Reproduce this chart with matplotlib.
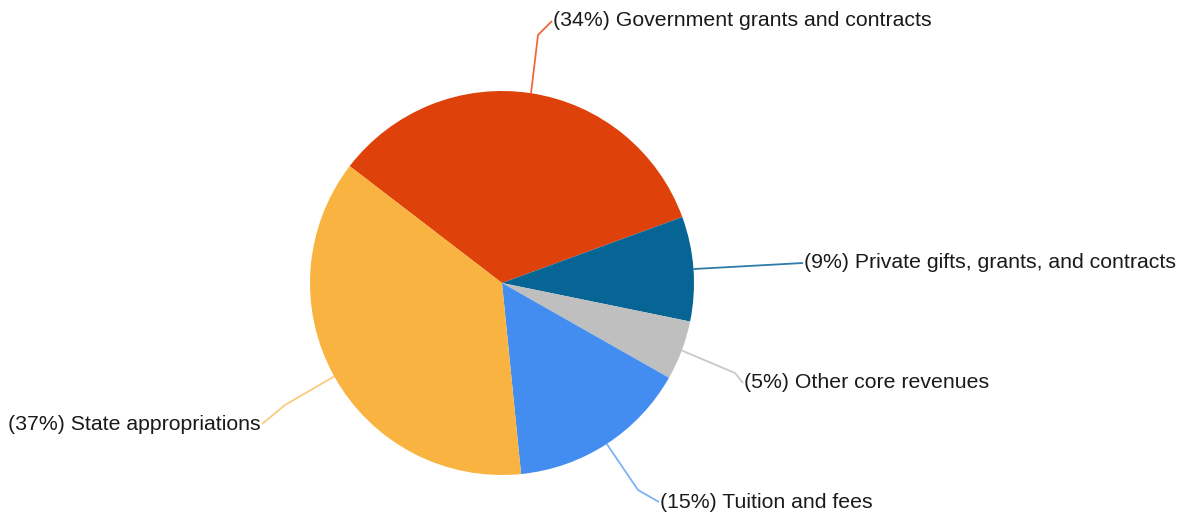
import numpy as np
import matplotlib
matplotlib.use("Agg")
from matplotlib import pyplot as plt

# slice values (percent), clockwise from the top-left edge
labels = ["Government grants and contracts", "Private gifts, grants, and contracts",
          "Other core revenues", "Tuition and fees", "State appropriations"]
values = [34.0, 8.8, 5.0, 15.2, 37.0]
pct_text = ["34%", "9%", "5%", "15%", "37%"]
colors = ["#DF410A", "#066594", "#BFBFBF", "#428DEF", "#F9B340"]
line_colors = ["#EE6A3A", "#2F7BA8", "#C9C9C9", "#7FB2F5", "#FBCB80"]

W, H = 1187, 518
cx, cy, r = 502, H - 283, 192
start = 142.5

# elbow and text anchor for each label (pixel coords, y down)
elbows = [(538, 35), (694, 269), (735, 373), (638, 490), (285, 405)]
anchors = [(552, 21), (803, 263), (743, 383), (659, 502), (262, 424)]
ha = ["left", "left", "left", "left", "right"]


def main():
    fig = plt.figure(figsize=(W / 100, H / 100), dpi=100)
    ax = fig.add_axes([0, 0, 1, 1])
    wedges, _ = ax.pie(values, colors=colors, startangle=start, counterclock=False,
                       center=(cx, cy), radius=r, frame=True,
                       wedgeprops=dict(linewidth=0))
    ax.set_xlim(0, W)
    ax.set_ylim(0, H)
    ax.set_aspect("equal")
    ax.axis("off")

    for w, lab, p, lc, (ex, ey), (tx, ty), h in zip(wedges, labels, pct_text, line_colors,
                                                    elbows, anchors, ha):
        mid = np.deg2rad((w.theta1 + w.theta2) / 2)
        px, py = cx + r * np.cos(mid), cy + r * np.sin(mid)
        ax.plot([px, ex, tx], [py, H - ey, H - ty], color=lc, lw=1.3,
                solid_capstyle="butt", zorder=0)
        ax.text(tx + (1 if h == "left" else -1), H - ty, f"({p}) {lab}", ha=h, va="center",
                fontsize=15.3, family="Liberation Sans", color="#1a1a1a")

    fig.savefig("out.png", dpi=100)


if __name__ == '__main__':
    main()
